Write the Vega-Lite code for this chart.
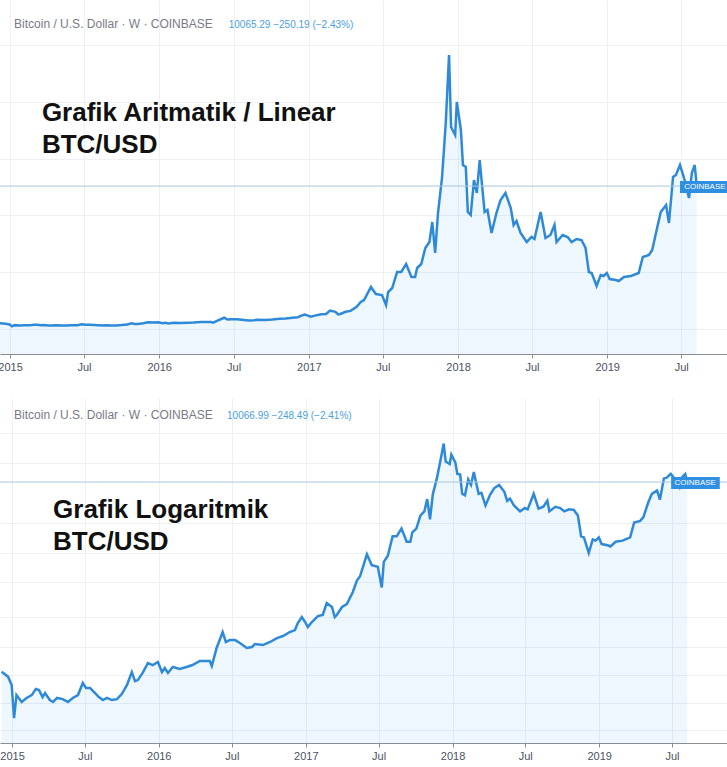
{
  "$schema": "https://vega.github.io/schema/vega-lite/v6.json",
  "background": "white",
  "padding": {"left": -6, "top": 0, "right": 0, "bottom": 0},
  "spacing": 20,
  "config": {"view": {"stroke": null}, "font": "Liberation Sans"},
  "datasets": {
    "btc": [
      {"date": "2014-12-06", "close": 405}, {"date": "2014-12-22", "close": 373}, {"date": "2014-12-31", "close": 324},
      {"date": "2015-01-06", "close": 185}, {"date": "2015-01-12", "close": 273}, {"date": "2015-01-25", "close": 243},
      {"date": "2015-02-06", "close": 260}, {"date": "2015-02-19", "close": 273}, {"date": "2015-03-01", "close": 303},
      {"date": "2015-03-09", "close": 297}, {"date": "2015-03-18", "close": 264}, {"date": "2015-03-24", "close": 283},
      {"date": "2015-04-05", "close": 251}, {"date": "2015-04-13", "close": 243}, {"date": "2015-04-23", "close": 260},
      {"date": "2015-05-07", "close": 255}, {"date": "2015-05-20", "close": 243}, {"date": "2015-06-01", "close": 260},
      {"date": "2015-06-14", "close": 273}, {"date": "2015-06-26", "close": 335}, {"date": "2015-07-04", "close": 308},
      {"date": "2015-07-14", "close": 308}, {"date": "2015-07-26", "close": 283}, {"date": "2015-08-05", "close": 264},
      {"date": "2015-08-15", "close": 251}, {"date": "2015-08-25", "close": 260}, {"date": "2015-09-06", "close": 251},
      {"date": "2015-09-19", "close": 255}, {"date": "2015-10-01", "close": 278}, {"date": "2015-10-14", "close": 324},
      {"date": "2015-10-26", "close": 403}, {"date": "2015-11-03", "close": 346}, {"date": "2015-11-10", "close": 352},
      {"date": "2015-11-23", "close": 403}, {"date": "2015-12-05", "close": 470}, {"date": "2015-12-17", "close": 454},
      {"date": "2015-12-30", "close": 478}, {"date": "2016-01-09", "close": 403}, {"date": "2016-01-16", "close": 432},
      {"date": "2016-01-24", "close": 397}, {"date": "2016-02-05", "close": 439}, {"date": "2016-02-22", "close": 425},
      {"date": "2016-03-10", "close": 439}, {"date": "2016-03-25", "close": 454}, {"date": "2016-04-12", "close": 486},
      {"date": "2016-05-07", "close": 486}, {"date": "2016-05-12", "close": 447}, {"date": "2016-05-24", "close": 606},
      {"date": "2016-06-08", "close": 794}, {"date": "2016-06-16", "close": 671}, {"date": "2016-06-26", "close": 693},
      {"date": "2016-07-09", "close": 693}, {"date": "2016-07-21", "close": 659}, {"date": "2016-08-07", "close": 606},
      {"date": "2016-08-20", "close": 616}, {"date": "2016-08-27", "close": 648}, {"date": "2016-09-16", "close": 637},
      {"date": "2016-10-04", "close": 671}, {"date": "2016-10-21", "close": 717}, {"date": "2016-11-05", "close": 742},
      {"date": "2016-11-22", "close": 794}, {"date": "2016-12-05", "close": 821}, {"date": "2016-12-12", "close": 925},
      {"date": "2016-12-22", "close": 1024}, {"date": "2016-12-30", "close": 941}, {"date": "2017-01-06", "close": 864},
      {"date": "2017-01-16", "close": 941}, {"date": "2017-01-31", "close": 1041}, {"date": "2017-02-12", "close": 1059},
      {"date": "2017-02-22", "close": 1298}, {"date": "2017-03-07", "close": 1213}, {"date": "2017-03-14", "close": 1024},
      {"date": "2017-03-19", "close": 1059}, {"date": "2017-04-01", "close": 1213}, {"date": "2017-04-13", "close": 1276},
      {"date": "2017-04-28", "close": 1564}, {"date": "2017-05-08", "close": 1900}, {"date": "2017-05-16", "close": 2042},
      {"date": "2017-06-02", "close": 2958}, {"date": "2017-06-14", "close": 2465}, {"date": "2017-06-29", "close": 2394},
      {"date": "2017-07-09", "close": 1690}, {"date": "2017-07-14", "close": 2606}, {"date": "2017-07-24", "close": 2887},
      {"date": "2017-08-05", "close": 4014}, {"date": "2017-08-15", "close": 4014}, {"date": "2017-08-27", "close": 4577},
      {"date": "2017-09-09", "close": 3662}, {"date": "2017-09-18", "close": 3662}, {"date": "2017-09-23", "close": 4296},
      {"date": "2017-10-03", "close": 4577}, {"date": "2017-10-13", "close": 5704}, {"date": "2017-10-23", "close": 6127},
      {"date": "2017-10-30", "close": 7535}, {"date": "2017-11-06", "close": 5352}, {"date": "2017-11-13", "close": 8169},
      {"date": "2017-11-23", "close": 10704}, {"date": "2017-12-02", "close": 14507}, {"date": "2017-12-10", "close": 19295},
      {"date": "2017-12-15", "close": 14225}, {"date": "2017-12-25", "close": 13661}, {"date": "2017-12-29", "close": 15985},
      {"date": "2018-01-08", "close": 14014}, {"date": "2018-01-13", "close": 11549}, {"date": "2018-01-20", "close": 11408},
      {"date": "2018-01-25", "close": 8239}, {"date": "2018-02-01", "close": 8028}, {"date": "2018-02-09", "close": 10493},
      {"date": "2018-02-16", "close": 9577}, {"date": "2018-02-23", "close": 11901}, {"date": "2018-03-07", "close": 8239},
      {"date": "2018-03-14", "close": 8380}, {"date": "2018-03-24", "close": 6760}, {"date": "2018-04-05", "close": 8169},
      {"date": "2018-04-15", "close": 9084}, {"date": "2018-04-27", "close": 9577}, {"date": "2018-05-10", "close": 8521},
      {"date": "2018-05-17", "close": 7324}, {"date": "2018-05-24", "close": 7605}, {"date": "2018-06-03", "close": 6760},
      {"date": "2018-06-18", "close": 6127}, {"date": "2018-06-30", "close": 6479}, {"date": "2018-07-07", "close": 6338},
      {"date": "2018-07-22", "close": 8239}, {"date": "2018-08-03", "close": 6408}, {"date": "2018-08-15", "close": 6619},
      {"date": "2018-08-25", "close": 7324}, {"date": "2018-08-30", "close": 6127}, {"date": "2018-09-14", "close": 6619},
      {"date": "2018-09-26", "close": 6479}, {"date": "2018-10-06", "close": 6127}, {"date": "2018-10-18", "close": 6338},
      {"date": "2018-10-30", "close": 6267}, {"date": "2018-11-09", "close": 5704}, {"date": "2018-11-17", "close": 4014},
      {"date": "2018-11-24", "close": 3944}, {"date": "2018-12-06", "close": 3028}, {"date": "2018-12-16", "close": 3803},
      {"date": "2018-12-23", "close": 3732}, {"date": "2018-12-31", "close": 3944}, {"date": "2019-01-07", "close": 3521},
      {"date": "2019-01-22", "close": 3451}, {"date": "2019-01-29", "close": 3380}, {"date": "2019-02-11", "close": 3662},
      {"date": "2019-02-28", "close": 3732}, {"date": "2019-03-19", "close": 3944}, {"date": "2019-03-29", "close": 5070},
      {"date": "2019-04-13", "close": 5211}, {"date": "2019-04-21", "close": 5563}, {"date": "2019-05-03", "close": 7112},
      {"date": "2019-05-12", "close": 8239}, {"date": "2019-05-25", "close": 8732}, {"date": "2019-06-01", "close": 7465},
      {"date": "2019-06-11", "close": 10704}, {"date": "2019-06-18", "close": 10845}, {"date": "2019-06-28", "close": 11549},
      {"date": "2019-07-08", "close": 10633}, {"date": "2019-07-20", "close": 9225}, {"date": "2019-07-27", "close": 10986},
      {"date": "2019-08-03", "close": 11549}, {"date": "2019-08-08", "close": 10065}
    ]
  },
  "vconcat": [
    {
      "width": 727,
      "height": 354,
      "data": {"name": "btc"},
      "layer": [
        {
          "mark": {"type": "area", "color": "#2196f3", "opacity": 0.08},
          "encoding": {
            "x": {
              "field": "date", "type": "temporal",
              "scale": {"type": "utc", "domain": [{"year": 2014, "month": 12, "date": 7, "hours": 12, "utc": true}, {"year": 2019, "month": 10, "date": 21, "utc": true}]},
              "axis": {
                "title": null, "tickCount": {"interval": "month", "step": 6},
                "labelExpr": "utcFormat(datum.value, '%m') == '01' ? utcFormat(datum.value, '%Y') : 'Jul'",
                "grid": true, "gridColor": "#eef0f4", "domainColor": "#8a8d96", "tickColor": "#8a8d96",
                "tickSize": 4, "labelColor": "#4c525e", "labelFont": "Liberation Sans", "labelFontSize": 11,
                "labelPadding": 3, "labelFlush": false, "labelOverlap": false, "minExtent": 24, "maxExtent": 24
              }
            },
            "y": {
              "field": "close", "type": "quantitative",
              "scale": {"domain": [-1760, 23168], "zero": false, "nice": false},
              "axis": {"orient": "right", "title": null, "labels": false, "ticks": false, "domain": false, "grid": true, "gridColor": "#eef0f4",
                "values": [0, 2000, 4000, 6000, 8000, 10000, 12000, 14000, 16000, 18000, 20000, 22000], "minExtent": 0, "maxExtent": 0}
            },
            "y2": {"datum": -1760}
          }
        },
        {
          "mark": {"type": "line", "color": "#2e8ad8", "strokeWidth": 2.5},
          "encoding": {
            "x": {"field": "date", "type": "temporal"},
            "y": {"field": "close", "type": "quantitative"}
          }
        },
        {
          "data": {"values": [{}]},
          "mark": {"type": "rule", "color": "#a9c6dc", "strokeWidth": 1},
          "encoding": {"y": {"datum": 10065.29, "type": "quantitative"}}
        },
        {
          "data": {"values": [{}]},
          "mark": {"type": "text", "align": "left", "baseline": "alphabetic", "font": "Liberation Sans", "fontSize": 12, "color": "#787b86", "text": "Bitcoin / U.S. Dollar · W · COINBASE"},
          "encoding": {
            "x": {"datum": {"year": 2015, "month": 1, "date": 11, "utc": true}, "type": "temporal"},
            "y": {"datum": 21196, "type": "quantitative"}
          }
        },
        {
          "data": {"values": [{}]},
          "mark": {"type": "text", "align": "left", "baseline": "alphabetic", "font": "Liberation Sans", "fontSize": 10, "color": "#4aa0e0", "text": "10065.29   −250.19 (−2.43%)"},
          "encoding": {
            "x": {"datum": {"year": 2016, "month": 6, "date": 19, "utc": true}, "type": "temporal"},
            "y": {"datum": 21196, "type": "quantitative"}
          }
        },
        {
          "data": {"values": [{}]},
          "mark": {"type": "text", "align": "left", "baseline": "alphabetic", "font": "Liberation Sans", "fontWeight": "bold", "fontSize": 26, "lineHeight": 32, "color": "#111111", "text": ["Grafik Aritmatik / Linear", "BTC/USD"]},
          "encoding": {
            "x": {"datum": {"year": 2015, "month": 3, "date": 20, "utc": true}, "type": "temporal"},
            "y": {"datum": 14669, "type": "quantitative"}
          }
        },
        {
          "data": {"values": [{}]},
          "mark": {"type": "rect", "color": "#2f8fe0"},
          "encoding": {
            "x": {"datum": {"year": 2019, "month": 6, "date": 28, "utc": true}, "type": "temporal"},
            "x2": {"datum": {"year": 2019, "month": 10, "date": 21, "utc": true}},
            "y": {"datum": 10422, "type": "quantitative"},
            "y2": {"datum": 9577}
          }
        },
        {
          "data": {"values": [{}]},
          "mark": {"type": "text", "align": "center", "baseline": "middle", "font": "Liberation Sans", "fontSize": 8, "color": "white", "text": "COINBASE"},
          "encoding": {
            "x": {"datum": {"year": 2019, "month": 8, "date": 28, "utc": true}, "type": "temporal"},
            "y": {"datum": 10000, "type": "quantitative"}
          }
        }
      ]
    },
    {
      "width": 727,
      "height": 345,
      "data": {"name": "btc"},
      "layer": [
        {
          "mark": {"type": "area", "color": "#2196f3", "opacity": 0.08},
          "encoding": {
            "x": {
              "field": "date", "type": "temporal",
              "scale": {"type": "utc", "domain": [{"year": 2014, "month": 12, "date": 2, "utc": true}, {"year": 2019, "month": 11, "date": 15, "utc": true}]},
              "axis": {
                "title": null, "tickCount": {"interval": "month", "step": 6},
                "labelExpr": "utcFormat(datum.value, '%m') == '01' ? utcFormat(datum.value, '%Y') : 'Jul'",
                "grid": true, "gridColor": "#eef0f4", "domainColor": "#8a8d96", "tickColor": "#8a8d96",
                "tickSize": 4, "labelColor": "#4c525e", "labelFont": "Liberation Sans", "labelFontSize": 11,
                "labelPadding": 3, "labelFlush": false, "labelOverlap": false, "minExtent": 24, "maxExtent": 24
              }
            },
            "y": {
              "field": "close", "type": "quantitative",
              "scale": {"type": "log", "domain": [121.3, 41740], "nice": false},
              "axis": {"orient": "right", "title": null, "labels": false, "ticks": false, "domain": false, "grid": true, "gridColor": "#eef0f4",
                "values": [151, 239, 383, 616, 1024, 1852, 3026, 5028, 13885, 23080], "minExtent": 0, "maxExtent": 0}
            },
            "y2": {"datum": 121.3}
          }
        },
        {
          "mark": {"type": "line", "color": "#2e8ad8", "strokeWidth": 2.5},
          "encoding": {
            "x": {"field": "date", "type": "temporal"},
            "y": {"field": "close", "type": "quantitative"}
          }
        },
        {
          "data": {"values": [{}]},
          "mark": {"type": "rule", "color": "#a9c6dc", "strokeWidth": 1},
          "encoding": {"y": {"datum": 10066.99, "type": "quantitative"}}
        },
        {
          "data": {"values": [{}]},
          "mark": {"type": "text", "align": "left", "baseline": "alphabetic", "font": "Liberation Sans", "fontSize": 12, "color": "#787b86", "text": "Bitcoin / U.S. Dollar · W · COINBASE"},
          "encoding": {
            "x": {"datum": {"year": 2015, "month": 1, "date": 6, "utc": true}, "type": "temporal"},
            "y": {"datum": 29250, "type": "quantitative"}
          }
        },
        {
          "data": {"values": [{}]},
          "mark": {"type": "text", "align": "left", "baseline": "alphabetic", "font": "Liberation Sans", "fontSize": 10, "color": "#4aa0e0", "text": "10066.99   −248.49 (−2.41%)"},
          "encoding": {
            "x": {"datum": {"year": 2016, "month": 6, "date": 19, "utc": true}, "type": "temporal"},
            "y": {"datum": 29250, "type": "quantitative"}
          }
        },
        {
          "data": {"values": [{}]},
          "mark": {"type": "text", "align": "left", "baseline": "alphabetic", "font": "Liberation Sans", "fontWeight": "bold", "fontSize": 26, "lineHeight": 32, "color": "#111111", "text": ["Grafik Logaritmik", "BTC/USD"]},
          "encoding": {
            "x": {"datum": {"year": 2015, "month": 4, "date": 13, "utc": true}, "type": "temporal"},
            "y": {"datum": 5474, "type": "quantitative"}
          }
        },
        {
          "data": {"values": [{}]},
          "mark": {"type": "rect", "color": "#2f8fe0"},
          "encoding": {
            "x": {"datum": {"year": 2019, "month": 6, "date": 29, "utc": true}, "type": "temporal"},
            "x2": {"datum": {"year": 2019, "month": 10, "date": 28, "utc": true}},
            "y": {"datum": 10958, "type": "quantitative"},
            "y2": {"datum": 8942}
          }
        },
        {
          "data": {"values": [{}]},
          "mark": {"type": "text", "align": "center", "baseline": "middle", "font": "Liberation Sans", "fontSize": 8, "color": "white", "text": "COINBASE"},
          "encoding": {
            "x": {"datum": {"year": 2019, "month": 8, "date": 28, "utc": true}, "type": "temporal"},
            "y": {"datum": 9897, "type": "quantitative"}
          }
        }
      ]
    }
  ]
}
